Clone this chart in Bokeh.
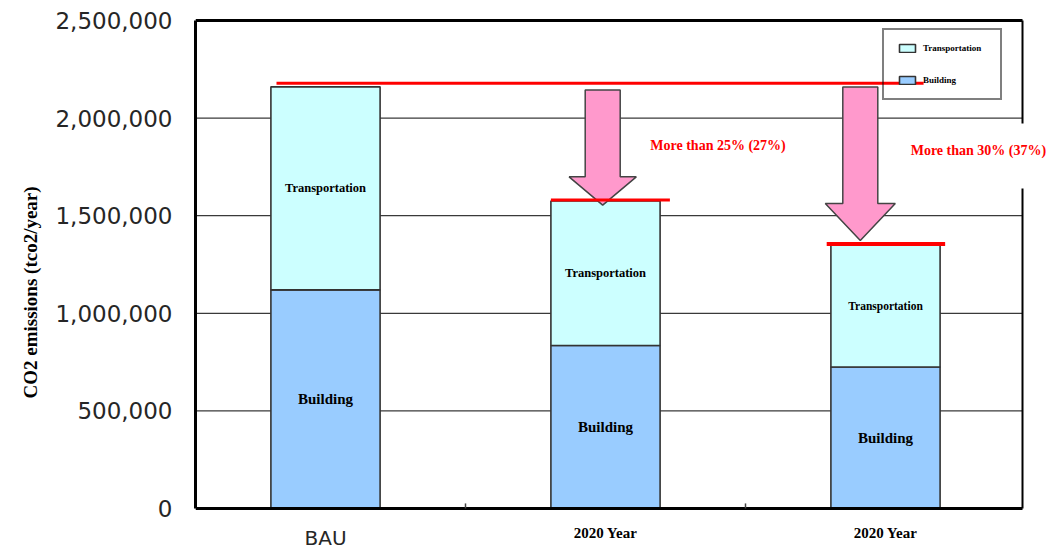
from bokeh.plotting import figure
from bokeh.models import (Range1d, FixedTicker, NumeralTickFormatter, Legend,
                          LegendItem, Title, ColumnDataSource)
from bokeh.core.properties import value
from bokeh.embed import file_html
from bokeh.resources import INLINE

# ---------------- data ----------------
categories = ["BAU", "2020 Year", "2020 Year"]
building = [1120000, 835000, 725000]
transportation = [1040000, 740000, 625000]
reduction_labels = ["", "More than 25% (27%)", "More than 30% (37%)"]
y_ticks = [0, 500000, 1000000, 1500000, 2000000, 2500000]
segment_names = ["Building", "Transportation"]
y_title = "CO2 emissions (tco2/year)"

# ---------------- layout constants ----------------
W, H = 1056, 549
LEFT = 195                      # width of the left (axis) panel
X_LEFT, X_RIGHT = -0.464286, 2.610714
Y_BOTTOM, Y_TOP = -210041, 2602459
X_BORDER = 2.4893               # right edge of the drawn plot box
Y_MAX = y_ticks[-1]
BW = 0.39

xs = list(range(len(categories)))
totals = [b + t for b, t in zip(building, transportation)]

p = figure(width=W, height=H, output_backend="svg", toolbar_location=None,
           x_range=Range1d(X_LEFT, X_RIGHT), y_range=Range1d(Y_BOTTOM, Y_TOP),
           min_border_left=LEFT, min_border_right=0, min_border_top=0,
           min_border_bottom=0, background_fill_color="white",
           border_fill_color="white")
p.outline_line_color = None
p.xaxis.visible = False
p.xgrid.visible = False
p.ygrid.visible = False

# grid lines (inside plot box only)
gy = y_ticks[1:-1]
p.segment(x0=[X_LEFT] * len(gy), y0=gy, x1=[X_BORDER] * len(gy), y1=gy,
          line_color="#3a3a3a", line_width=1.3)

# bars
src = ColumnDataSource(dict(x=xs, Building=building, Transportation=transportation))
r_build, r_trans = p.vbar_stack(segment_names, x="x", width=BW, source=src,
                                color=["#99CCFF", "#CCFFFF"],
                                line_color="#333333", line_width=1.6)

# plot box: top, bottom, right (with gap behind the annotation)
p.segment(x0=[X_LEFT], y0=[Y_MAX], x1=[X_BORDER], y1=[Y_MAX],
          line_color="black", line_width=3)
p.segment(x0=[X_LEFT], y0=[0], x1=[X_BORDER], y1=[0],
          line_color="black", line_width=3)
p.segment(x0=[X_BORDER, X_BORDER], y0=[Y_MAX, 1639000],
          x1=[X_BORDER, X_BORDER], y1=[1972000, 0],
          line_color="black", line_width=2)
# category separator ticks on the bottom line
sep = [i + 0.5 for i in xs[:-1]]
p.segment(x0=sep, y0=[0] * len(sep), x1=sep, y1=[26000] * len(sep),
          line_color="#444444", line_width=1.5)

# y axis
ya = p.yaxis[0]
ya.ticker = FixedTicker(ticks=y_ticks)
ya.bounds = (0, Y_MAX)
ya.formatter = NumeralTickFormatter(format="0,0")
ya.major_tick_in = 0
ya.major_tick_out = 0
ya.minor_tick_line_color = None
ya.axis_line_width = 3
ya.axis_line_color = "black"
ya.major_label_text_font = "DejaVu Sans"
ya.major_label_text_font_size = "23px"
ya.major_label_text_color = "#262626"
ya.major_label_standoff = 23

# y title (side panel title so that it can sit off-centre like the original)
p.add_layout(Title(text=y_title, align="left", offset=151, standoff=24,
                   text_font="Liberation Serif", text_font_style="bold",
                   text_font_size="19px", text_color="black"), "left")

# segment texts inside bars
tx, ty, tt, ts = [], [], [], []
t_sizes = ["12.5px", "12.5px", "11.5px"]
for i in xs:
    tx += [i, i]
    ty += [building[i] / 2, building[i] + transportation[i] / 2]
    tt += ["Building", "Transportation"]
    ts += ["15px", t_sizes[i]]
p.text(x=tx, y=ty, text=tt, text_font_size=ts, text_align="center",
       text_baseline="middle", text_font=value("Liberation Serif"),
       text_font_style="bold", text_color="black")

# reduction arrows
def arrow(cx, y_top, y_tip, head_len, shaft_hw, head_hw):
    yb = y_tip + head_len
    ax = [cx - shaft_hw, cx + shaft_hw, cx + shaft_hw, cx + head_hw, cx,
          cx - head_hw, cx - shaft_hw]
    ay = [y_top, y_top, yb, yb, y_tip, yb, yb]
    return ax, ay

a1 = arrow(xs[1] - 0.01, totals[0] - 16000, totals[1] - 21000, 145000, 0.0625, 0.12)
a2 = arrow(xs[2] - 0.09, totals[0] - 1000, totals[2] + 23000, 190000, 0.0625, 0.125)
p.patches(xs=[a1[0], a2[0]], ys=[a1[1], a2[1]], fill_color="#FF99CC",
          line_color="#444444", line_width=1.5)

# red reference lines
p.segment(x0=[xs[1] - BW / 2], y0=[totals[1] + 5000],
          x1=[xs[1] + BW / 2 + 0.035], y1=[totals[1] + 5000],
          line_color="#FF0000", line_width=3)
p.segment(x0=[xs[2] - BW / 2 - 0.015], y0=[totals[2] + 5000],
          x1=[xs[2] + BW / 2 + 0.018], y1=[totals[2] + 5000],
          line_color="#FF0000", line_width=4)

# reduction labels
p.text(x=[1.16, 2.09], y=[1860000, 1834000], text=reduction_labels[1:],
       text_color="#FF0000", text_font=value("Liberation Serif"),
       text_font_style="bold", text_font_size="14px", text_baseline="middle")

# category labels under the axis
p.text(x=[xs[0]], y=[-148600], text=[categories[0]], text_align="center",
       text_baseline="middle", text_font=value("DejaVu Sans"),
       text_font_size="20px", text_color="#262626")
p.text(x=xs[1:], y=[-128000] * (len(xs) - 1), text=categories[1:],
       text_align="center", text_baseline="middle",
       text_font=value("Liberation Serif"), text_font_style="bold",
       text_font_size="15px", text_color="black")

# BAU reference line (runs into the legend's Building swatch)
p.segment(x0=[xs[0] - BW / 2 + 0.02], y0=[totals[0] + 18000],
          x1=[2.136], y1=[totals[0] + 18000], line_color="#FF0000",
          line_width=3)

# legend
legend = Legend(items=[LegendItem(label="Transportation", renderers=[r_trans]),
                       LegendItem(label="Building", renderers=[r_build])],
                location=(687, 449), padding=13, spacing=22, margin=0,
                glyph_width=20, glyph_height=10, label_height=10,
                label_width=64, label_standoff=6,
                label_text_font="Liberation Serif", label_text_font_style="bold",
                label_text_font_size="9px", label_text_color="black",
                border_line_color="black", border_line_width=2,
                background_fill_alpha=0.0)
p.add_layout(legend)

open("out.html", "w").write(file_html(p, INLINE))
